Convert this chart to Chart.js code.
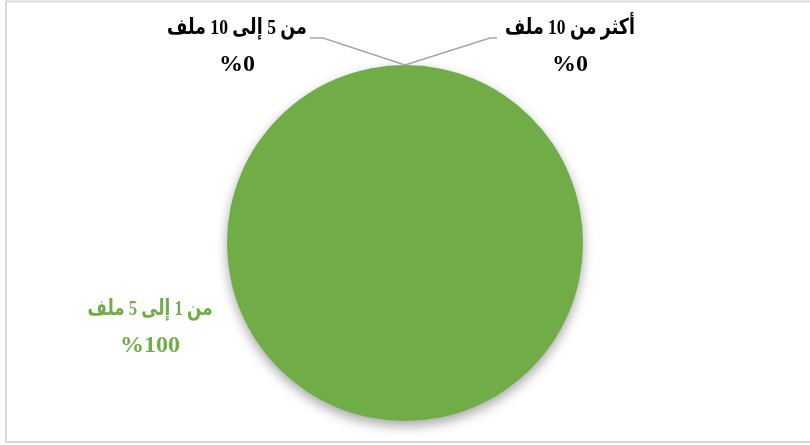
<!DOCTYPE html>
<html>
<head>
<meta charset="utf-8">
<script src="https://cdn.jsdelivr.net/npm/chart.js@4/dist/chart.umd.min.js"></script>
<style>
html,body{margin:0;padding:0;background:#fff;}
#wrap{width:810px;height:445px;position:relative;}
</style>
</head>
<body>
<div id="wrap"><canvas id="c" width="810" height="445"></canvas></div>
<script>
const categories = ["من 1 إلى 5 ملف", "من 5 إلى 10 ملف", "أكثر من 10 ملف"];
const values = [100, 0, 0];
const percentLabels = ["%100", "%0", "%0"];
const colors = ["#70AD47", "#ED7D31", "#A5A5A5"];
const labelColors = ["#70AD47", "#000000", "#000000"];

const FONT_CAT = 'bold 22px "Liberation Serif", "Times New Roman", "DejaVu Sans", serif';
const FONT_PCT = 'bold 24px "Liberation Serif", "Times New Roman", serif';

// label layout offsets relative to pie centre (layout only)
const labelPos = [
  {dx: -255, dy: 66, w: 125, line: null},
  {dx: -168, dy: -215, w: 140, line: [[-82, -205], [-95, -205]]},
  {dx: 165, dy: -215, w: 130, line: [[85, -205], [92, -205]]}
];

const framePlugin = {
  id: 'frame',
  beforeDraw(chart) {
    const ctx = chart.ctx;
    ctx.save();
    ctx.fillStyle = '#fff';
    ctx.fillRect(0, 0, chart.width, chart.height);
    ctx.strokeStyle = '#d9d9d9';
    ctx.lineWidth = 2;
    ctx.strokeRect(6, 1.5, chart.width + 10, 440.5);
    ctx.restore();
  }
};

const shadowPlugin = {
  id: 'shadow',
  beforeDatasetDraw(chart) {
    const ctx = chart.ctx;
    ctx.save();
    ctx.shadowColor = 'rgba(0,0,0,0.35)';
    ctx.shadowBlur = 12;
    ctx.shadowOffsetX = 0;
    ctx.shadowOffsetY = 5;
  },
  afterDatasetDraw(chart) {
    chart.ctx.restore();
  }
};

const labelPlugin = {
  id: 'pieLabels',
  afterDatasetsDraw(chart) {
    const ctx = chart.ctx;
    const meta = chart.getDatasetMeta(0);
    meta.data.forEach((arc, i) => {
      const p = arc.getProps(['x', 'y', 'startAngle', 'endAngle', 'outerRadius'], true);
      const cx = p.x, cy = p.y;
      const lp = labelPos[i];
      ctx.save();
      if (lp.line) {
        const mid = (p.startAngle + p.endAngle) / 2;
        const ax = cx + Math.cos(mid) * p.outerRadius;
        const ay = cy + Math.sin(mid) * p.outerRadius;
        ctx.strokeStyle = '#a6a6a6';
        ctx.lineWidth = 1.5;
        ctx.beginPath();
        ctx.moveTo(ax, ay);
        lp.line.forEach(pt => ctx.lineTo(cx + pt[0], cy + pt[1]));
        ctx.stroke();
      }
      ctx.fillStyle = labelColors[i];
      ctx.textAlign = 'center';
      ctx.textBaseline = 'middle';
      ctx.font = FONT_CAT;
      ctx.direction = 'rtl';
      ctx.fillText(categories[i], cx + lp.dx, cy + lp.dy, lp.w);
      ctx.font = FONT_PCT;
      ctx.direction = 'ltr';
      ctx.fillText(percentLabels[i], cx + lp.dx, cy + lp.dy + 37);
      ctx.restore();
    });
  }
};

new Chart(document.getElementById('c'), {
  type: 'pie',
  data: {
    labels: categories,
    datasets: [{
      data: values,
      backgroundColor: colors,
      borderWidth: 0
    }]
  },
  options: {
    responsive: false,
    animation: false,
    layout: {padding: {top: 65, bottom: 24, left: 0, right: 0}},
    plugins: {legend: {display: false}, tooltip: {enabled: false}}
  },
  plugins: [framePlugin, shadowPlugin, labelPlugin]
});
</script>
</body>
</html>
